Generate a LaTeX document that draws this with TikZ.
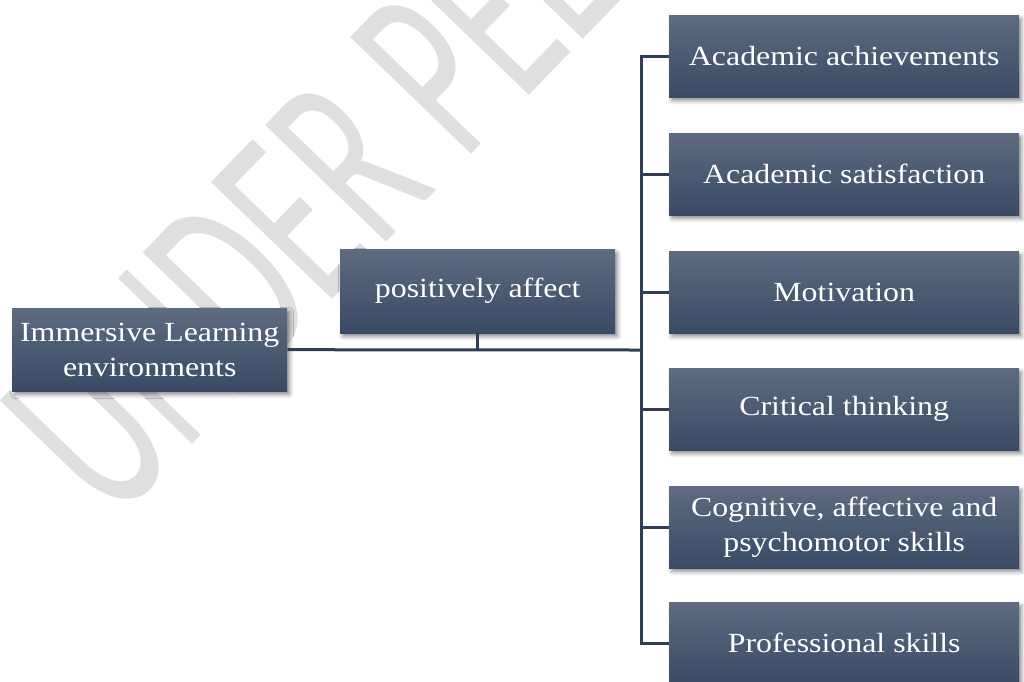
\documentclass[tikz,border=0pt]{standalone}
\usepackage{fontspec}
\setmainfont[FakeStretch=1.15]{Liberation Serif}
\newfontfamily\wmfont[FakeStretch=0.61]{Carlito}
\usetikzlibrary{shadows.blur}
\definecolor{boxtop}{RGB}{94,107,128}
\definecolor{boxbot}{RGB}{58,74,100}
\definecolor{linec}{RGB}{47,61,85}
\definecolor{wmgray}{RGB}{223,223,223}
\tikzset{
  box/.style={rectangle, anchor=north west, minimum width=#1, minimum height=83pt,
    top color=boxtop, bottom color=boxbot, draw=none, text=white,
    font=\fontsize{27.7}{35}\selectfont, align=center, inner sep=0pt,
    blur shadow={shadow xshift=2.5pt, shadow yshift=-3.5pt, shadow blur radius=4pt, shadow opacity=45}},
  conn/.style={draw=linec, line width=3pt},
  wmark/.style={text=wmgray, font=\wmfont\fontsize{262}{262}\selectfont, inner sep=0pt}
}
\begin{document}
\begin{tikzpicture}[x=1pt,y=-1pt]
\useasboundingbox (0,0) rectangle (1024,681);
\begin{scope}
\clip (0,0) rectangle (1024,681);
\node[wmark, rotate=46, anchor=base west] (wm) at (113,526) {UNDER PEER REVIEW};
\end{scope}
\node[box=275pt] (ile) at (12,308) {Immersive Learning\\environments};
\node[box=275pt, minimum height=84pt] (pa) at (340,249) {positively affect};
\node[box=350pt, minimum height=82pt] (a1) at (669,15) {Academic achievements};
\node[box=350pt, minimum height=82pt] (a2) at (669,133) {Academic satisfaction};
\node[box=350pt, minimum height=82pt] (a3) at (669,251) {Motivation};
\node[box=350pt, minimum height=82pt] (a4) at (669,368) {Critical thinking};
\node[box=350pt, minimum height=82pt] (a5) at (669,486) {Cognitive, affective and\\psychomotor skills};
\node[box=350pt, minimum height=82pt] (a6) at (669,602) {Professional skills};
\coordinate (hub) at (641,350);
\draw[conn] (ile.east) -- (hub);
\draw[conn] (pa.south) -- (pa.south |- hub);
\draw[conn] (a1.west) -- (a1.west -| hub) -- (a6.west -| hub) -- (a6.west);
\foreach \n in {a2,a3,a4,a5} \draw[conn] (\n.west) -- (\n.west -| hub);
\end{tikzpicture}
\end{document}
